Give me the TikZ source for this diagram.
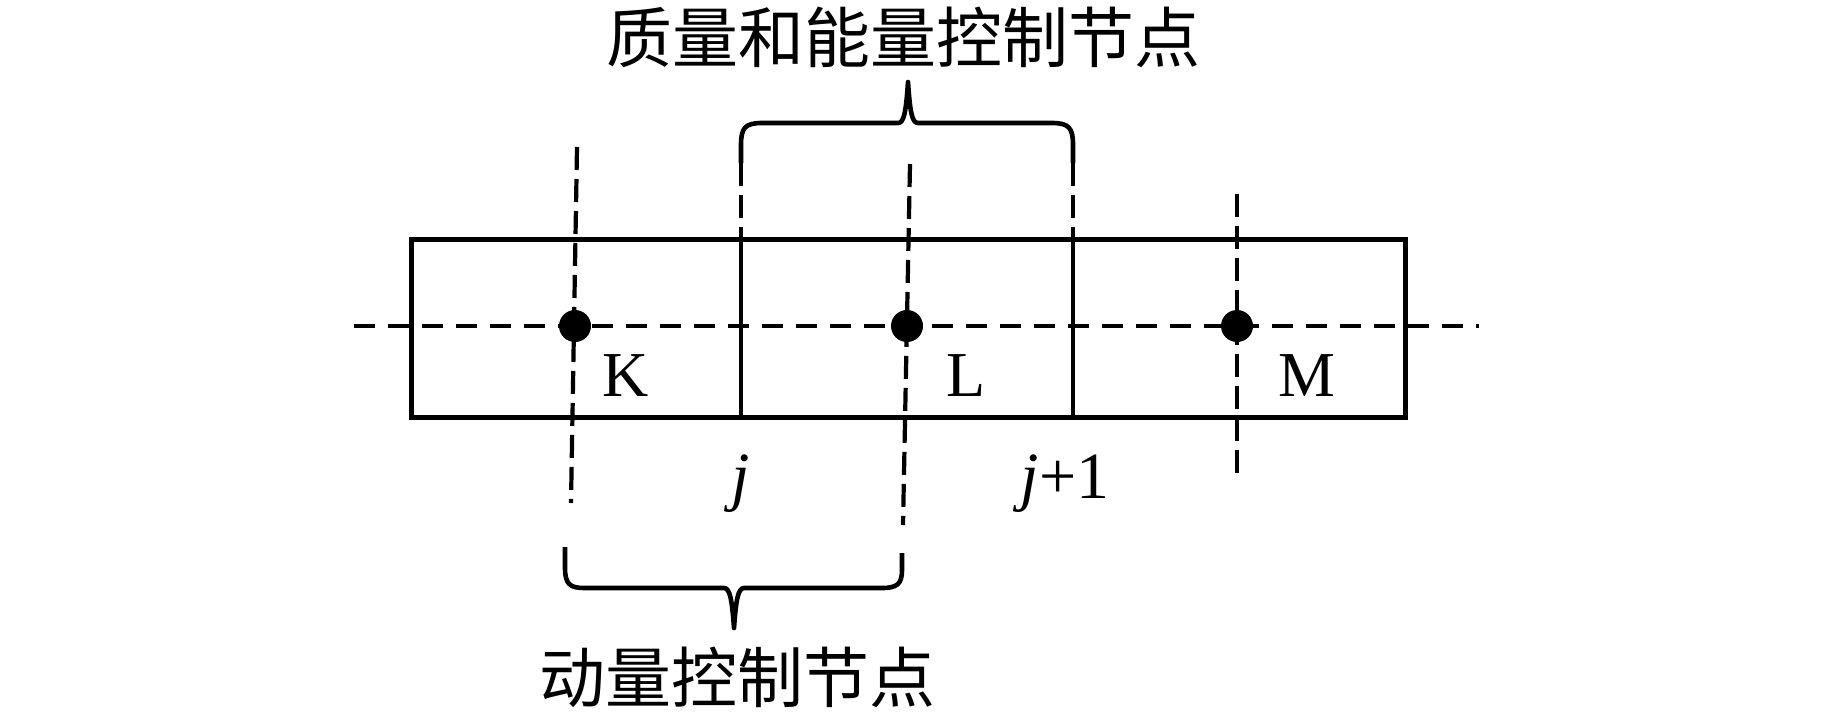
\documentclass[tikz,border=0pt]{standalone}
\usepackage{fontspec}
\setmainfont{Liberation Serif}
\newfontfamily\cjk{Noto Sans CJK SC}
\begin{document}
\begin{tikzpicture}[x=1pt,y=-1pt,
  solidline/.style={line width=4.8pt},
  hdash/.style={line width=4.5pt,dash pattern=on 21pt off 13pt},
  vdash/.style={line width=4.2pt,dash pattern=on 23pt off 9pt},
  bracepath/.style={line width=4.6pt,line join=round},
  dotnode/.style={circle,fill=black,inner sep=0pt,minimum size=32pt},
  cjklabel/.style={font=\cjk\fontsize{66pt}{70pt}\selectfont,inner sep=0pt},
  cellname/.style={font=\fontsize{64pt}{68pt}\selectfont,inner sep=0pt,anchor=base},
  facename/.style={font=\fontsize{66pt}{70pt}\selectfont,inner sep=0pt,anchor=base}]
\useasboundingbox (0,0) rectangle (1843,718);
% rectangle and cell walls
\node[draw,solidline,minimum width=994pt,minimum height=178pt,inner sep=0pt,anchor=north west] (box) at (409,237) {};
\coordinate (wjt) at (741,237);
\coordinate (wjb) at (741,415);
\coordinate (wkt) at (1073,237);
\coordinate (wkb) at (1073,415);
\draw[solidline] (wjt) -- (wjb);
\draw[solidline] (wkt) -- (wkb);
% horizontal axis
\coordinate (hl) at (354,326);
\coordinate (hr) at (1479,326);
\draw[hdash] (hl) -- (hr);
% vertical dashed lines
\coordinate (kt) at (577,147);
\coordinate (kb) at (571,503);
\coordinate (lt) at (910,164);
\coordinate (lb) at (903,525);
\coordinate (mt) at (1237,194);
\coordinate (mb) at (1237,476);
\draw[vdash] (kt) -- (kb);
\draw[vdash] (lt) -- (lb);
\draw[vdash] (mt) -- (mb);
% upward dashed continuation of walls
\coordinate (bjt) at (741,163);
\coordinate (bkt) at (1073,163);
\draw[vdash] (bjt) -- (wjt);
\draw[vdash] (bkt) -- (wkt);
% dots
\node[dotnode] (K) at (575,326) {};
\node[dotnode] (L) at (907,326) {};
\node[dotnode] (M) at (1237,326) {};
% labels
\node[cellname] (Kl) at (626,396) {K};
\node[cellname] (Ll) at (966,396) {L};
\node[cellname] (Ml) at (1307,396) {M};
\node[facename] (jl) at (741,498) {\textit{j}};
\node[facename] (j1l) at (1065,498) {\textit{j}+1};
% top brace
\draw[bracepath] (bjt) -- (741,145) .. controls (741,128) and (745,123) .. (762,123)
  -- (898,123) .. controls (904,123) and (906,112) .. (908,82)
  .. controls (910,112) and (912,123) .. (918,123)
  -- (1052,123) .. controls (1069,123) and (1073,128) .. (1073,145) -- (bkt);
% bottom brace
\coordinate (bbl) at (565,547);
\coordinate (bbr) at (902,553);
\draw[bracepath] (bbl) -- (565,568) .. controls (565,584) and (570,588) .. (584,588)
  -- (724,588) .. controls (730,588) and (732,600) .. (734,628)
  .. controls (736,600) and (738,588) .. (744,588)
  -- (882,588) .. controls (897,588) and (902,584) .. (902,570) -- (bbr);
% captions
\node[cjklabel] (top) at (903,37) {质量和能量控制节点};
\node[cjklabel] (bot) at (737,677) {动量控制节点};
\end{tikzpicture}
\end{document}
